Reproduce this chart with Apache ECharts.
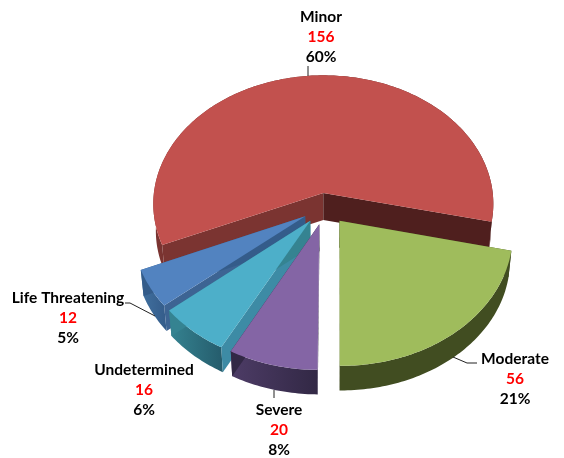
<!DOCTYPE html>
<html>
<head>
<meta charset="utf-8">
<style>html,body{margin:0;padding:0;background:#fff}#chart{width:564px;height:458px}</style>
<script src="https://cdn.jsdelivr.net/npm/echarts@6/dist/echarts.min.js"></script>
</head>
<body>
<div id="chart"></div>
<script>
// data
var categories = ['Minor', 'Moderate', 'Severe', 'Undetermined', 'Life Threatening'];
var counts = [156, 56, 20, 16, 12];
var percents = ['60%', '21%', '8%', '6%', '5%'];

// slice styling, same order as categories
var topColors = ['#c2514e', '#9fbc5c', '#8465a5', '#4dafc9', '#5283c0'];
var rimColors = [['#7b3431', '#4f1f1e'], ['#414d21', '#414d21'], ['#4d3c66', '#322845'], ['#358391', '#255c6c'], ['#41709f', '#345c8a']];
var startWall = ['#7b3431', '#414d21', '#322845', '#3d8ba5', '#3d6493'];
var endWall = ['#4f1f1e', '#414d21', '#322845', '#358391', '#345c8a'];
var explode = [0.11, 0.135, 0.135, 0.135, 0.135];
var paintOrder = [0, 4, 3, 2, 1];

// fake 3d projection of the disk
var cx = 325, cy = 207, fx = 171, fy = 130, persp = 0.086, depth = 27, shrink = 0.985;
var firstAngle = 156.8;

var labelSpots = [[321, 7], [515, 349], [279, 400], [144, 360], [68, 288]];
var leaders = [
  [[308, 66], [308, 76]],
  [[477, 363], [467, 363], [453, 357]],
  [[274, 398], [274, 390]],
  [[125, 303], [130, 303], [155, 316]]
];

var total = counts.reduce(function (a, b) { return a + b; }, 0);

function project(x, y, low) {
  var w = 1 - persp * y;
  var px = fx * x / w, py = fy * y / w;
  if (low) {
    return [cx + px * shrink, cy + py * shrink + depth];
  }
  return [cx + px, cy + py];
}

function sliceAngles(idx) {
  var a = firstAngle;
  for (var i = 0; i < idx; i++) a += counts[i] / total * 360;
  return [a, a + counts[idx] / total * 360];
}

function renderSlice(params, api) {
  var idx = params.dataIndex;
  var ang = sliceAngles(idx);
  var mid = (ang[0] + ang[1]) / 2 * Math.PI / 180;
  var ox = Math.cos(mid) * explode[idx], oy = Math.sin(mid) * explode[idx];
  var up = [], low = [];
  for (var d = ang[0]; d < ang[1]; d += 1) {
    var r = d * Math.PI / 180;
    up.push(project(ox + Math.cos(r), oy + Math.sin(r), false));
    low.push(project(ox + Math.cos(r), oy + Math.sin(r), true));
  }
  var re = ang[1] * Math.PI / 180;
  up.push(project(ox + Math.cos(re), oy + Math.sin(re), false));
  low.push(project(ox + Math.cos(re), oy + Math.sin(re), true));
  var apexUp = project(ox, oy, false), apexLow = project(ox, oy, true);
  var z = paintOrder[idx] * 10;

  function poly(points, fill, zz) {
    return { type: 'polygon', z2: z + zz, shape: { points: points }, style: { fill: fill } };
  }
  return {
    type: 'group',
    children: [
      poly(up.concat(low.slice().reverse()), new echarts.graphic.LinearGradient(0, 0, 1, 0, [
        { offset: 0, color: rimColors[idx][0] }, { offset: 1, color: rimColors[idx][1] }
      ]), 0),
      poly([apexUp, up[0], low[0], apexLow], startWall[idx], 1),
      poly([apexUp, up[up.length - 1], low[low.length - 1], apexLow], endWall[idx], 1),
      poly([apexUp].concat(up), topColors[idx], 2)
    ]
  };
}

var labelFont = { fontFamily: 'Lato', fontWeight: 'bold', fontSize: 15.5, lineHeight: 20 };
var graphics = categories.map(function (name, i) {
  return {
    type: 'text',
    x: labelSpots[i][0],
    y: labelSpots[i][1],
    z: 10,
    style: {
      text: '{n|' + name + '}\n{v|' + counts[i] + '}\n{n|' + percents[i] + '}',
      align: 'center',
      rich: {
        n: Object.assign({ fill: '#000' }, labelFont),
        v: Object.assign({ fill: '#ff0000' }, labelFont)
      }
    }
  };
}).concat(leaders.map(function (pts) {
  return {
    type: 'polyline',
    z: 9,
    shape: { points: pts },
    style: { fill: null, stroke: '#222', lineWidth: 1 }
  };
}));

var chart = echarts.init(document.getElementById('chart'));
chart.setOption({
  backgroundColor: '#fff',
  animation: false,
  graphic: graphics,
  series: [{
    type: 'custom',
    coordinateSystem: 'none',
    renderItem: renderSlice,
    data: counts.map(function (v, i) { return { name: categories[i], value: [v] }; })
  }]
});
</script>
</body>
</html>
